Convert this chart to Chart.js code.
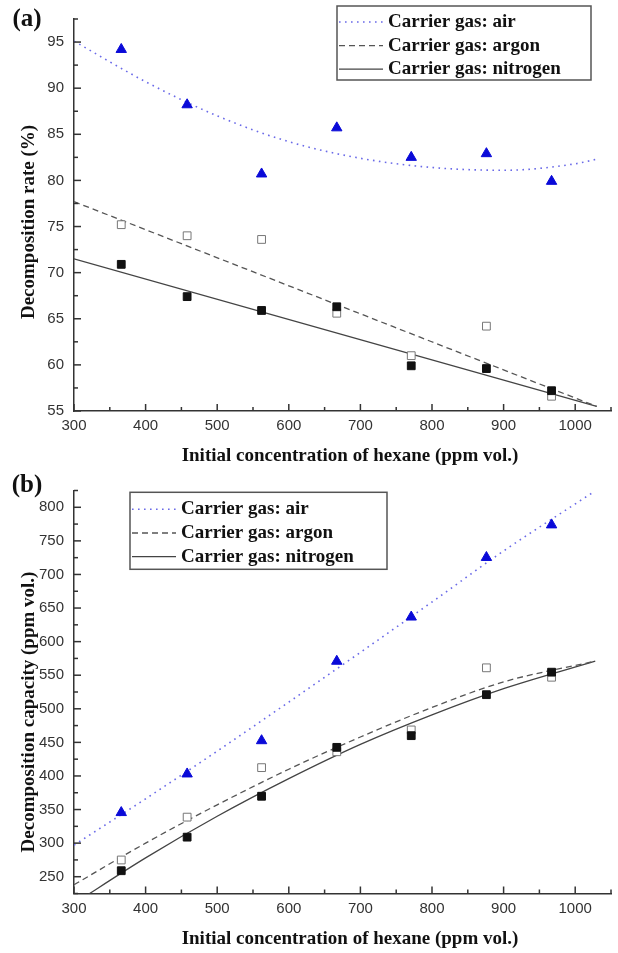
<!DOCTYPE html>
<html>
<head>
<meta charset="utf-8">
<title>Hexane decomposition</title>
<script src="https://cdn.jsdelivr.net/npm/chart.js@4.4.1/dist/chart.umd.min.js"></script>
<style>
  body { margin: 0; background: #fff; }
  #wrap { position: relative; width: 618px; height: 953px; overflow: hidden; }
  .panel { position: absolute; left: 0; }
  .txt {
    position: absolute;
    font: bold 19px "Liberation Serif", "Times New Roman", serif;
    color: #111;
    white-space: nowrap;
    transform: translate(-50%, -50%);
  }
  .rot { transform: translate(-50%, -50%) rotate(-90deg); }
  .tag { font-size: 25px; }
</style>
</head>
<body>
<div id="wrap">
  <div class="panel" style="top:0"><canvas id="rateChart" width="618" height="470"></canvas></div>
  <div class="panel" style="top:470px"><canvas id="capacityChart" width="618" height="483"></canvas></div>

  <div class="txt tag" style="left:27px;top:18px">(a)</div>
  <div class="txt rot" style="left:28px;top:222px">Decomposition rate (%)</div>
  <div class="txt" style="left:350px;top:455px">Initial concentration of hexane (ppm vol.)</div>

  <div class="txt tag" style="left:27px;top:484px">(b)</div>
  <div class="txt rot" style="left:28px;top:712px">Decomposition capacity (ppm vol.)</div>
  <div class="txt" style="left:350px;top:938px">Initial concentration of hexane (ppm vol.)</div>
</div>

<script>
// initial hexane concentration, ppm vol.
const concentration = [366, 458, 562, 667, 771, 876, 967];

// (a) decomposition rate, %
const rateAir = [94.2, 88.2, 80.7, 85.7, 82.5, 82.9, 79.9];
const rateArgon = [75.2, 74.0, 73.6, 65.6, 61.0, 64.2, 56.6];
const rateNitrogen = [70.9, 67.4, 65.9, 66.3, 59.9, 59.6, 57.2];

// fitted curves for (a)
const rateAirFitX = [300, 400, 500, 600, 700, 800, 900, 1000, 1030];
const rateAirFitY = [95.1, 90.7, 87.0, 84.2, 82.4, 81.4, 81.1, 81.8, 82.3];
const rateArgonFitX = [300, 1030];
const rateArgonFitY = [77.7, 55.5];
const rateNitrogenFitX = [300, 1030];
const rateNitrogenFitY = [71.5, 55.5];

// (b) decomposition capacity, ppm vol.
const capAir = [345.5, 403, 452.5, 570.8, 636.6, 725.3, 773.8];
const capArgon = [274.9, 338.7, 412.4, 436, 468.5, 561, 547];
const capNitrogen = [258.9, 308.9, 369.8, 442.6, 460, 521, 554.5];

// fitted curves for (b)
const capAirFitX = [300, 400, 500, 600, 700, 800, 900, 1026];
const capAirFitY = [297, 366, 437, 510, 584, 659, 735, 823];
const capArgonFitX = [300, 400, 500, 600, 700, 800, 900, 1028];
const capArgonFitY = [238, 300, 357, 410, 458, 502, 540, 571];
const capNitrogenFitX = [300, 400, 500, 600, 700, 800, 900, 1028];
const capNitrogenFitY = [210, 278, 340, 396, 447, 491, 530, 571];

// axis ticks
const xTicks = [300, 400, 500, 600, 700, 800, 900, 1000];
const rateTicks = [55, 60, 65, 70, 75, 80, 85, 90, 95];
const capTicks = [250, 300, 350, 400, 450, 500, 550, 600, 650, 700, 750, 800];

const seriesNames = ['Carrier gas: air', 'Carrier gas: argon', 'Carrier gas: nitrogen'];

function pts(xs, ys) {
    return xs.map((x, i) => ({ x: x, y: ys[i] }));
}

// tick marks pointing into the plot, with a minor tick halfway between labels
const innerTicks = {
    id: 'innerTicks',
    afterDraw(chart) {
        const ctx = chart.ctx;
        const area = chart.chartArea;
        ctx.save();
        ctx.strokeStyle = '#333';
        ctx.lineWidth = 1.5;
        ['x', 'y'].forEach(function(id) {
            const scale = chart.scales[id];
            const vals = scale.ticks.map(t => t.value);
            const step = vals[1] - vals[0];
            const marks = [];
            vals.forEach(v => marks.push([v, 7]));
            for (let v = vals[0] - step / 2; v <= scale.max + 1e-9; v += step) {
                if (v >= scale.min - 1e-9) marks.push([v, 4]);
            }
            marks.forEach(function(m) {
                const p = scale.getPixelForValue(m[0]);
                ctx.beginPath();
                if (id === 'x') {
                    ctx.moveTo(p, area.bottom);
                    ctx.lineTo(p, area.bottom - m[1]);
                } else {
                    ctx.moveTo(area.left, p);
                    ctx.lineTo(area.left + m[1], p);
                }
                ctx.stroke();
            });
        });
        ctx.restore();
    }
};

// boxed legend listing the fitted curves
const framedLegend = {
    id: 'framedLegend',
    afterDraw(chart, args, opts) {
        const ctx = chart.ctx;
        const fits = chart.data.datasets.filter(d => d.fitLine);
        ctx.save();
        ctx.strokeStyle = '#555';
        ctx.lineWidth = 1.5;
        ctx.strokeRect(opts.left, opts.top, opts.width, opts.height);
        ctx.font = 'bold 19px "Liberation Serif"';
        ctx.textBaseline = 'middle';
        fits.forEach(function(d, i) {
            const y = opts.firstRow + i * opts.rowGap;
            ctx.setLineDash(d.borderDash || []);
            ctx.strokeStyle = d.borderColor;
            ctx.lineWidth = d.borderWidth;
            ctx.beginPath();
            ctx.moveTo(opts.left + 2, y);
            ctx.lineTo(opts.left + 46, y);
            ctx.stroke();
            ctx.setLineDash([]);
            ctx.fillStyle = '#111';
            ctx.fillText(d.label, opts.left + 51, y);
        });
        ctx.restore();
    }
};

function buildDatasets(air, argon, nitrogen, airFit, argonFit, nitrogenFit) {
    return [
        { type: 'scatter', data: pts(concentration, air), pointStyle: 'triangle', pointRadius: 6,
          backgroundColor: '#0a0ad8', borderColor: '#0a0ad8', borderWidth: 1 },
        { type: 'scatter', data: pts(concentration, nitrogen), pointStyle: 'rect', pointRadius: 5.5,
          backgroundColor: '#111', borderColor: '#111', borderWidth: 1 },
        { type: 'scatter', data: pts(concentration, argon), pointStyle: 'rect', pointRadius: 5.5,
          backgroundColor: '#fff', borderColor: '#777', borderWidth: 1 },
        { type: 'line', label: seriesNames[0], fitLine: true, data: airFit,
          borderColor: '#6a6ae8', borderWidth: 1.6, borderDash: [1.6, 4.4], pointRadius: 0,
          cubicInterpolationMode: 'monotone', fill: false },
        { type: 'line', label: seriesNames[1], fitLine: true, data: argonFit,
          borderColor: '#555', borderWidth: 1.3, borderDash: [6, 4], pointRadius: 0,
          cubicInterpolationMode: 'monotone', fill: false },
        { type: 'line', label: seriesNames[2], fitLine: true, data: nitrogenFit,
          borderColor: '#444', borderWidth: 1.3, pointRadius: 0,
          cubicInterpolationMode: 'monotone', fill: false }
    ];
}

function buildOptions(yMin, yMax, yTicks, padTop, xHeight, legendBox) {
    const tickFont = { family: 'Liberation Sans', size: 15 };
    return {
        responsive: false,
        animation: false,
        layout: { padding: { left: 0, right: 2.6, top: padTop, bottom: 0 } },
        plugins: {
            legend: { display: false },
            tooltip: { enabled: false },
            framedLegend: legendBox
        },
        scales: {
            x: {
                type: 'linear',
                min: 300,
                max: 1050,
                afterBuildTicks: s => { s.ticks = xTicks.map(v => ({ value: v })); },
                afterFit: s => { s.height = xHeight; },
                grid: { display: false, drawTicks: false },
                border: { display: true, color: '#333', width: 1.5 },
                ticks: {
                    color: '#333', font: tickFont, padding: 6, maxRotation: 0, autoSkip: false,
                    callback: v => String(v)
                }
            },
            y: {
                type: 'linear',
                min: yMin,
                max: yMax,
                afterBuildTicks: s => { s.ticks = yTicks.map(v => ({ value: v })); },
                afterFit: s => { s.width = 74; },
                grid: { display: false, drawTicks: false },
                border: { display: true, color: '#333', width: 1.5 },
                ticks: { color: '#333', font: tickFont, padding: 10, autoSkip: false, callback: v => String(v) }
            }
        }
    };
}

// (a) decomposition rate
new Chart(document.getElementById('rateChart'), {
    type: 'scatter',
    data: {
        datasets: buildDatasets(rateAir, rateArgon, rateNitrogen,
            pts(rateAirFitX, rateAirFitY),
            pts(rateArgonFitX, rateArgonFitY),
            pts(rateNitrogenFitX, rateNitrogenFitY))
    },
    options: buildOptions(55, 97.5, rateTicks, 8, 59,
        { left: 337, top: 6, width: 254, height: 74, firstRow: 22, rowGap: 23.6 }),
    plugins: [innerTicks, framedLegend]
});

// (b) decomposition capacity
new Chart(document.getElementById('capacityChart'), {
    type: 'scatter',
    data: {
        datasets: buildDatasets(capAir, capArgon, capNitrogen,
            pts(capAirFitX, capAirFitY),
            pts(capArgonFitX, capArgonFitY),
            pts(capNitrogenFitX, capNitrogenFitY))
    },
    options: buildOptions(225, 825, capTicks, 20.5, 59.5,
        { left: 130, top: 22.3, width: 257, height: 77, firstRow: 39.3, rowGap: 23.7 }),
    plugins: [innerTicks, framedLegend]
});
</script>
</body>
</html>
